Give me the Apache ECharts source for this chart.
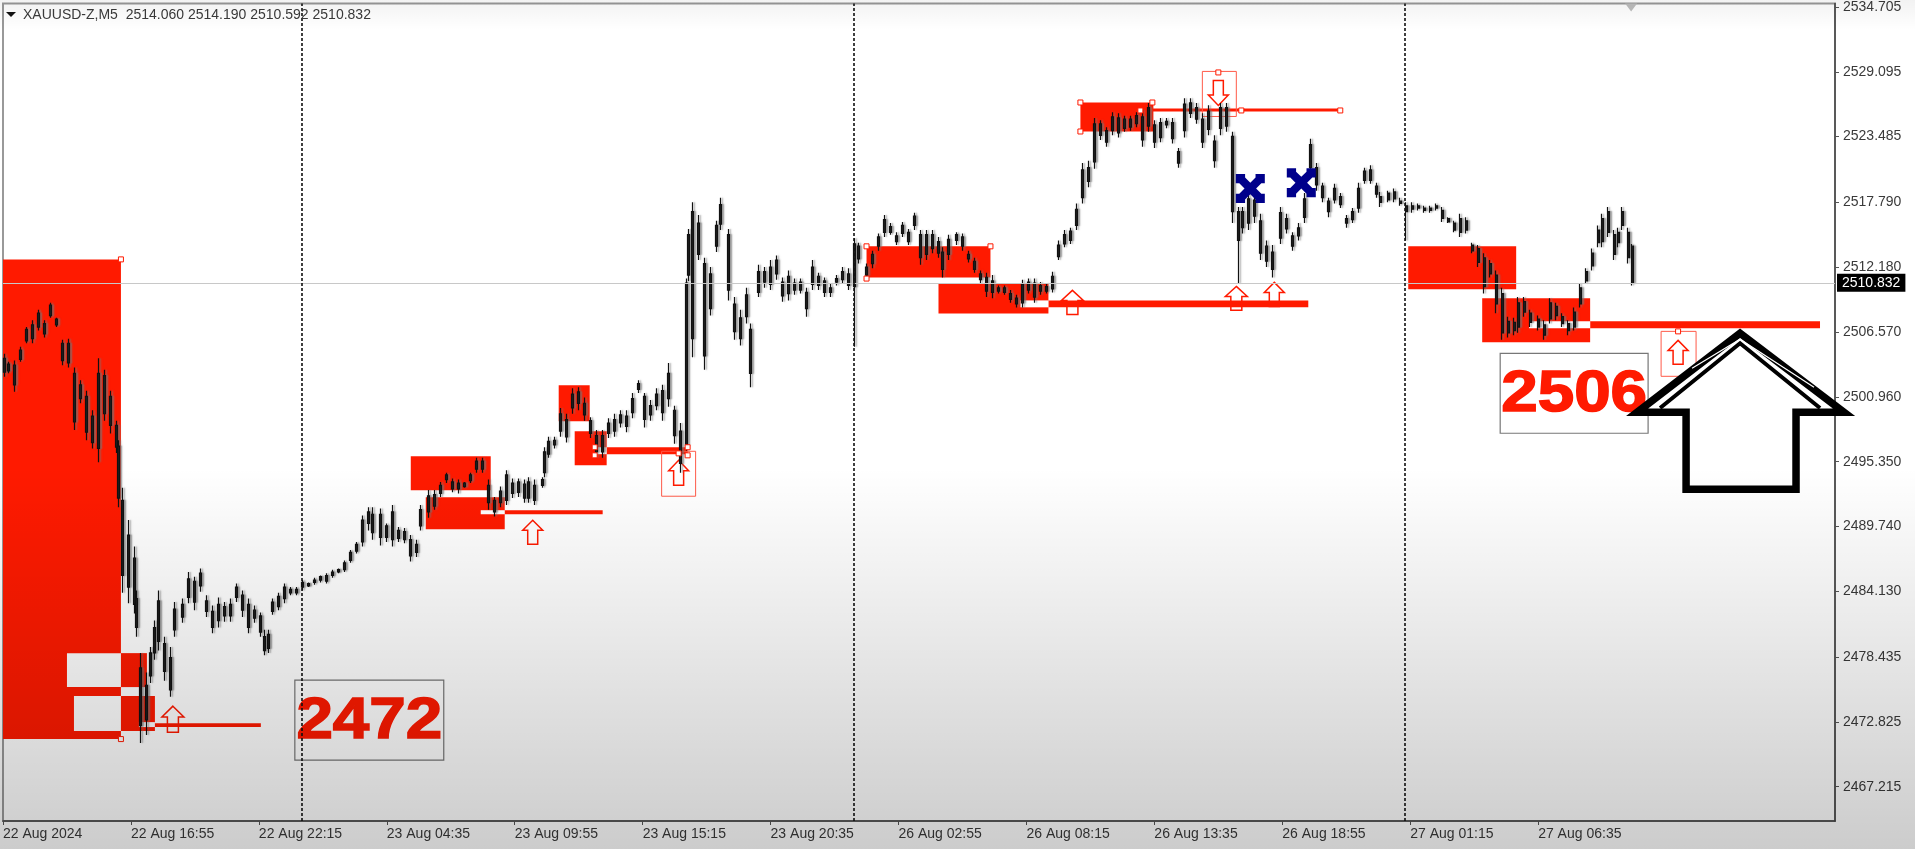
<!DOCTYPE html>
<html><head><meta charset="utf-8">
<style>html,body{margin:0;padding:0;background:#fff}#c{width:1915px;height:849px}</style>
<script src="https://cdn.jsdelivr.net/npm/echarts@6/dist/echarts.min.js"></script>
</head><body><div id="c"></div>
<script>
const headerText = 'XAUUSD-Z,M5  2514.060 2514.190 2510.592 2510.832';
const lastPrice = 2510.832;
const priceTicks = [2534.705,2529.095,2523.485,2517.79,2512.18,2506.57,2500.96,2495.35,2489.74,2484.13,2478.435,2472.825,2467.215];
const timeLabels = ['22 Aug 2024','22 Aug 16:55','22 Aug 22:15','23 Aug 04:35','23 Aug 09:55','23 Aug 15:15','23 Aug 20:35','26 Aug 02:55','26 Aug 08:15','26 Aug 13:35','26 Aug 18:55','27 Aug 01:15','27 Aug 06:35'];
const timeLabelBars = [0,64,128,192,256,320,384,448,512,576,640,704,768];
const separatorBars = [149.5,425.5,701.5];

// [bar, open, close, low, high]
const session22 = [
[1,2504.3,2503.1,2502.7,2504.7],[3,2503.2,2503.8,2503.0,2504.0],[6,2503.7,2502.0,2501.4,2504.1],[9,2504.2,2505.0,2504.0,2505.3],
[12,2505.8,2506.8,2505.6,2507.0],[15,2507.2,2506.0,2505.6,2507.6],[18,2507.0,2508.2,2506.7,2508.5],[21,2507.3,2506.4,2506.1,2507.6],
[24,2508.0,2508.9,2507.8,2509.1],[27,2507.7,2507.2,2507.0,2507.8],[30,2505.6,2504.1,2503.7,2505.9],[33,2503.9,2505.6,2503.5,2506.0],
[36,2503.0,2498.8,2498.1,2503.5],[39,2500.8,2502.0,2500.4,2502.4],[42,2501.0,2497.9,2497.2,2501.5],[45,2497.0,2499.3,2496.5,2499.8],
[48,2496.5,2503.0,2495.3,2504.3],[51,2502.8,2499.5,2498.9,2503.3],[54,2498.5,2501.0,2497.8,2501.5],[57,2498.5,2496.6,2496.1,2498.9],
[58,2496.7,2492.2,2491.4,2497.2],[60,2492,2485.5,2484.0,2493.1],[63,2484.5,2489,2483.1,2490.3],[66,2487,2483,2482.2,2488.0],
[67,2483.5,2481,2480.2,2484.2],[69,2477.5,2472.5,2471.0,2478.8],[72,2473,2476,2471.7,2477.1],[74,2476.8,2478.8,2476.2,2479.3],
[76,2478.8,2481,2478.2,2481.6],[78,2479.8,2483.3,2479.0,2484.2],[81,2479.6,2477.2,2476.4,2480.2],[84,2475.6,2478.4,2475.0,2479.3],
[86,2480.8,2482.6,2480.2,2483.2],[90,2481.9,2483,2481.4,2483.5],[93,2483.6,2485.2,2483.1,2485.8],[96,2485,2483.2,2482.5,2485.4],
[99,2484.6,2485.7,2484.1,2486.1],[102,2483.3,2482.4,2481.9,2483.8],[105,2482.4,2481,2480.5,2482.9],[108,2481.6,2483,2481.0,2483.6],
[111,2482.8,2482,2481.5,2483.2],[114,2482,2483,2481.5,2483.5],[117,2483.6,2484.5,2483.2,2484.8],[120,2483.8,2482.5,2481.9,2484.2],
[123,2483,2481,2480.5,2483.5],[126,2481.8,2482.5,2481.4,2482.9],[129,2482,2480.6,2480.2,2482.3],[131,2480.2,2479,2478.6,2480.8],
[133,2479.2,2480.4,2478.8,2480.8],[135,2482.4,2483.2,2482.1,2483.5],[138,2482.8,2483.7,2482.5,2484],[141,2483.5,2484.5,2483.1,2484.8],
[144,2484.3,2484,2483.8,2484.5],[147,2484,2484.3,2483.8,2484.5],[150,2484.5,2484.9,2484.2,2485.1],[153,2484.8,2484.6,2484.5,2484.9],
[156,2484.9,2485.1,2484.7,2485.3],[159,2485.1,2485.4,2484.9,2485.5],[162,2485.0,2485.5,2484.8,2485.7],[165,2485.8,2485.5,2485.3,2486]
];
const session23 = [
[168,2485.8,2486,2485.7,2486.1],[171,2486,2486.6,2485.8,2486.8],[174,2486.8,2487.5,2486.6,2487.7],[177,2487.6,2488.2,2487.4,2488.4],
[180,2488.4,2490.3,2488,2490.7],[183,2490,2491,2489.4,2491.4],[185,2490.8,2489.2,2488.6,2491.4],[189,2490.8,2488.8,2488.1,2491.3],
[192,2489.8,2488.8,2488.4,2490],[195,2488.6,2491,2488,2491.6],[198,2489.4,2488.7,2488.4,2489.7],[201,2488.6,2489.3,2488.3,2489.6],
[204,2488.6,2487.2,2486.7,2489],[207,2487.5,2488.2,2487.1,2488.6],[209,2489.8,2491.2,2489.4,2491.6],[213,2491,2492.4,2490.5,2492.9],
[216,2492.5,2491.5,2491.2,2492.9],[219,2492.6,2493.3,2492.3,2493.6],[222,2493.8,2494.2,2493.5,2494.4],[225,2493.6,2493,2492.7,2493.9],
[228,2493,2493.5,2492.6,2493.8],[231,2493.2,2493.5,2493.1,2493.6],[234,2493.7,2494.2,2493.5,2494.4],[237,2494.7,2495.4,2494.4,2495.7],
[240,2495.4,2494.7,2494.4,2495.7],[243,2493.3,2491.8,2491.2,2493.8],[246,2491,2492,2490.6,2492.3],[249,2491.8,2492.8,2491.4,2493.2],
[252,2492,2494.2,2491.6,2494.6],[255,2493.5,2492.6,2492.2,2493.9],[258,2492.7,2493.6,2492.3,2493.9],[261,2493.4,2492.2,2491.8,2493.8],
[263,2492.2,2493.6,2491.8,2494],[266,2493.3,2492,2491.6,2493.8],[270,2493.3,2493.8,2493.1,2494],[271,2494.4,2496.2,2494,2496.6],
[273,2496,2497.1,2495.7,2497.5],[276,2497.2,2496.8,2496.5,2497.5],[279,2498,2499.5,2497.5,2500],[282,2499,2497.5,2497,2499.5],
[285,2500,2501.2,2499.5,2501.7],[288,2500.4,2501.4,2499.8,2501.8],[291,2500.4,2499.4,2498.9,2500.9],[294,2498.9,2497.8,2497.4,2499.2],
[297,2497.6,2496.2,2495.7,2498.1],[300,2496.2,2497.6,2495.7,2498.1],[303,2497.8,2498.7,2497.4,2499.1],[306,2499,2498,2497.5,2499.5],
[309,2498.7,2499.4,2498.3,2499.8],[312,2499.3,2498.4,2497.9,2499.8],[315,2499.6,2500.8,2499.1,2501.3],[318,2501.6,2502.1,2501.3,2502.4],
[321,2501,2499,2498.3,2501.3],[324,2499.4,2500.2,2498.9,2500.7],[327,2500.2,2501.2,2499.8,2501.7],[330,2501.5,2499.6,2498.9,2502],
[333,2500.8,2503,2500.1,2503.9],[336,2499.8,2497.6,2496.9,2500.2],[339,2498,2495.2,2494.4,2498.7],[342,2496.8,2510.8,2496.3,2511.2],
[343,2511.5,2515,2511,2515.5],[345,2517,2506,2504.4,2517.8],[348,2513.3,2516,2512.8,2516.7],[351,2512.5,2504.5,2503.3,2513],
[354,2508.6,2511.6,2508,2512.2],[357,2514,2515.8,2513.5,2516.2],[359,2515.9,2517.6,2515.4,2518.2],[363,2515,2510.2,2509.3,2515.5],
[366,2509,2506.6,2505.9,2509.6],[369,2506,2507.8,2505.4,2508.5],[372,2507.9,2509.8,2507.3,2510.4],[374,2506.8,2503,2501.8,2507.3],
[378,2510,2511.8,2509.6,2512.4],[381,2511.8,2510.9,2510.4,2512.2],[384,2510.7,2512.2,2510.2,2512.8],[387,2511.6,2512.8,2511.1,2513.2],
[390,2510.9,2509.7,2509.2,2511.3],[393,2509.9,2511.4,2509.3,2511.9],[396,2510.8,2510.2,2509.8,2511.2],[399,2510.2,2510.9,2509.9,2511.2],
[402,2510,2508.6,2507.9,2510.4],[405,2510.7,2512.2,2510.2,2512.8],[408,2511.4,2510.6,2510.2,2511.7],[411,2511,2510,2509.6,2511.3],
[414,2510.4,2510,2509.6,2510.8],[417,2510.9,2511.2,2510.6,2511.5],[420,2511.1,2511.8,2510.8,2512.2],[423,2511.6,2510.6,2510.2,2512.1]
];
const session26 = [
[426,2510.5,2514.2,2505.3,2514.7],[428,2514,2512.9,2512.5,2514.3],[432,2512.2,2511.5,2511.1,2512.5],[435,2512.5,2513.3,2512.1,2513.6],
[438,2514,2514.8,2513.6,2515.1],[441,2515.2,2516.3,2514.8,2516.7],[444,2515.7,2515.2,2515,2516],[447,2514.9,2514.4,2514.1,2515.2],
[450,2515.1,2515.8,2514.8,2516.1],[453,2515.2,2514.4,2514.1,2515.5],[456,2515.8,2516.6,2515.4,2516.9],[459,2515,2513,2512.4,2515.4],
[462,2513.3,2515,2512.8,2515.4],[465,2515,2513.8,2513.4,2515.4],[468,2513.4,2514.4,2513,2514.8],[470,2513.5,2512,2511.3,2513.9],
[473,2513.3,2514.6,2512.8,2515],[477,2514.5,2515,2514.1,2515.2],[480,2514.8,2514,2513.6,2515.1],[483,2513.3,2512.9,2512.6,2513.6],
[486,2512.7,2512,2511.7,2513],[489,2511.6,2511.1,2510.8,2511.9],[492,2511.3,2510.1,2509.6,2511.7],[495,2510,2511,2509.5,2511.5],
[498,2510.4,2510.1,2509.9,2510.6],[501,2510,2510.4,2509.8,2510.6],[504,2509.9,2509.4,2509.1,2510.2],[507,2509.5,2509,2508.7,2509.8],
[510,2509.1,2510.7,2508.7,2511.1],[513,2510.2,2510.9,2509.9,2511.2],[516,2510.8,2509.6,2509.1,2511.2],[519,2510.1,2510.6,2509.8,2510.9],
[522,2510.5,2510.1,2509.9,2510.8],[525,2510.3,2511.4,2510,2511.8],[528,2513.1,2514.1,2512.8,2514.5],[531,2514.2,2515,2513.9,2515.4],
[534,2514.5,2515.3,2514.2,2515.6],[537,2515.8,2517.2,2515.4,2517.7],[540,2518.2,2520.6,2517.7,2521.2],[543,2520.8,2519.6,2519.1,2521.4],
[546,2521.3,2524.6,2520.7,2525.1],[549,2523.6,2524.6,2523.2,2524.9],[552,2524,2523,2522.6,2524.3],[555,2524,2525.2,2523.6,2525.6],
[558,2525.1,2523.8,2523.4,2525.5],[561,2524.2,2525,2523.9,2525.3],[564,2525,2524.3,2524,2525.3],[567,2524.6,2525.3,2524.3,2525.6],
[570,2525.2,2523.2,2522.6,2525.8],[573,2524.4,2526,2523.9,2526.4],[576,2524.5,2523,2522.5,2524.9],[579,2523.4,2524.7,2523,2525.1],
[582,2524.8,2524.5,2524.2,2525.1],[585,2524.7,2523.3,2522.9,2525.1],[588,2522.2,2521.2,2520.8,2522.5],[591,2524,2526.3,2523.4,2526.8],
[594,2525.5,2526.4,2525.1,2526.8],[597,2526,2525,2524.6,2526.4],[600,2525,2523,2522.5,2525.5],[603,2524.1,2525.7,2523.6,2526.2],
[606,2523.1,2521.4,2520.8,2523.6],[609,2524.2,2526,2523.6,2526.4],[612,2526,2524.4,2523.9,2526.4],[615,2523.5,2517,2516,2523.9],
[618,2514.5,2517,2510.8,2517.4],[620,2515.6,2517,2515.1,2517.4],[623,2516,2518.1,2515.4,2518.6],[626,2518,2516.6,2516,2518.6],
[629,2516.2,2513.4,2512.8,2516.8],[632,2514,2512.7,2512.2,2514.5],[635,2512,2513.5,2511.3,2514.1],[639,2514.7,2516.9,2514.2,2517.4],
[642,2516.4,2515.5,2515.1,2516.8],[645,2514.9,2514,2513.6,2515.2],[648,2514.9,2515.6,2514.5,2516],[651,2516.5,2518.1,2516,2518.6],
[654,2520.8,2522.8,2520.3,2523.3],[657,2520.8,2519.3,2518.8,2521.2],[660,2519.2,2518.2,2517.8,2519.5],[663,2517.9,2517,2516.5,2518.2],
[666,2518,2519,2517.7,2519.4],[669,2518.3,2517.6,2517.3,2518.6],[672,2516.4,2516,2515.6,2516.7],[675,2516.3,2517,2516,2517.3],
[678,2517.3,2519,2516.9,2519.5],[681,2519.7,2520.5,2519.4,2520.8],[684,2520.6,2519.7,2519.4,2521],[687,2519.2,2518.5,2518.2,2519.5],
[689,2518.3,2517.8,2517.4,2518.7],[693,2518,2518.6,2517.8,2518.8],[696,2518.7,2518.1,2517.8,2519],[699,2517.9,2517.7,2517.5,2518.2]
];
const session27 = [
[702,2517.5,2517,2514.5,2517.8],[705,2517.5,2517.2,2516.9,2517.8],[708,2517.3,2517.5,2517.1,2517.7],[711,2517.3,2517.1,2516.9,2517.5],
[714,2517.1,2517.3,2516.9,2517.5],[717,2517.3,2517.5,2517.1,2517.7],[720,2517.1,2516.4,2516.1,2517.4],[723,2516.4,2516.1,2516,2516.5],
[726,2516,2515.4,2515.2,2516.2],[729,2515.2,2516.4,2514.8,2516.8],[732,2516.2,2515.4,2515.1,2516.5],[735,2514.1,2513.6,2513.4,2514.3],
[738,2513.8,2512.6,2512.2,2514.1],[741,2513,2510.5,2509.9,2513.4],[744,2511.6,2512.5,2511.3,2512.8],[747,2511.5,2509,2508.2,2511.9],
[750,2509.9,2506.5,2505.9,2510.4],[753,2507.5,2506.5,2506.1,2507.9],[756,2506.7,2507.4,2506.3,2507.8],[758,2507,2509.1,2506.5,2509.6],
[761,2509.2,2508.3,2507.9,2509.6],[764,2508.2,2507.4,2507,2508.5],[768,2507.7,2507,2506.7,2508],[771,2507.2,2506.3,2505.9,2507.6],
[774,2507.7,2509.1,2507.3,2509.5],[777,2508.8,2508,2507.6,2509.1],[780,2507.9,2507.3,2507,2508.2],[783,2507.3,2506.7,2506.3,2507.6],
[786,2507,2508.3,2506.7,2508.7],[789,2509,2510.4,2508.7,2510.8],[792,2511,2511.8,2510.8,2512.1],[795,2512.3,2513.4,2511.9,2513.8],
[798,2514.3,2515.4,2513.9,2515.8],[800,2514.4,2516.4,2513.9,2516.8],[803,2517,2515.2,2514.8,2517.4],[806,2515,2513.3,2512.8,2515.4],
[808,2514.3,2515.2,2513.9,2515.6],[810,2515.8,2517,2515.4,2517.4],[813,2515.2,2513,2512.5,2515.6],[815,2514,2510.832,2510.6,2514.2]
];

// [barFrom, barTo, priceTop, priceBottom]
const redZones = [
[0,59,2512.86,2471.34],[59,72,2478.78,2475.84],[59,76,2475.06,2472.03],
[204,244,2495.81,2492.87],[211.5,251,2492.27,2489.5],[278,293.5,2501.96,2498.85],[286,302,2497.98,2495.04],
[432,494,2513.99,2511.3],[468,523,2510.78,2508.18],[539,575.5,2526.44,2523.93],
[703,757,2513.99,2510.27],[740,794,2509.49,2505.68]
];
const levelLines = [
[76,129,2472.72,2472.38],[251,300,2491.15,2490.8],[302,342.5,2496.6,2496.0],
[523,653,2509.31,2508.71],[570,669,2525.92,2525.66],[794,909,2507.5,2506.89]
];
const whiteZones = [
[32,59,2478.78,2475.84],[35.5,59,2475.06,2472.03],[68,76,2472.81,2472.38],
[239,251,2491.15,2490.8],[296.5,302,2496.6,2496.0],[509,523,2509.31,2508.71],[763.5,794,2507.5,2506.89]
];
const redFrames = [[329.5,346.5,2496.25,2492.36],[600,617,2529.13,2525.23],[829.5,847,2506.63,2502.74]];
const grayFrames = [[146,220.5,2476.44,2469.52],[749,823,2504.73,2497.81]];
// [bar, tipPrice, basePrice, halfWidthInBars]
const signalArrows = [
[85,2474.19,2471.94,5.5],[265,2490.28,2488.21,5],[338,2495.47,2493.31,5],[535,2510.18,2508.1,5.5],
[617,2510.52,2508.45,5.5],[636,2510.87,2508.79,5],[838,2505.85,2503.78,5],[608,2526.18,2528.35,5]
];
const handlePoints = [
[59,2512.86],[59,2471.34],[432,2513.99],[494,2513.99],[432,2511.2],[539,2526.44],[575,2526.44],[539,2523.93],
[569,2525.75],[619.5,2525.75],[669,2525.75],[608,2529.04],[838,2506.63],[342.5,2496.6],[342.5,2495.9],[296,2496.6],[296,2495.9],[338,2496.07]
];
const crossMarks = [[624,2519.0],[649.5,2519.5]];
const bigTexts = [['2472',183.25,2472.8],['2506',786,2501.1]];
const bigArrowOutline = [[869,2506.46],[921,2499.63],[897,2499.63],[897,2492.97],[842,2492.97],[842,2499.63],[817.5,2499.63]];
const bigArrowInner = [[829,2500.0],[869,2505.6],[909,2500.0]];
const bigArrowHairline = [[845,2503.43],[869,2505.95],[906,2501.79]];
const shiftMarker = [[814.5,2534.66]];

const candles = [...session22, ...session23, ...session26, ...session27];
const RED = '#ff1a00';

function rectSeries(data, style) {
  return {
    type: 'custom', data, silent: true, clip: false,
    encode: { x: [0, 1], y: [2, 3] },
    renderItem(p, api) {
      const a = api.coord([api.value(0), api.value(2)]);
      const b = api.coord([api.value(1), api.value(3)]);
      return { type: 'rect', shape: { x: a[0], y: a[1], width: b[0] - a[0], height: b[1] - a[1] }, style };
    }
  };
}
function lineSeries(points, closed, style) {
  return {
    type: 'custom', data: [0], silent: true, clip: false,
    encode: { x: [], y: [] },
    renderItem(p, api) {
      return { type: closed ? 'polygon' : 'polyline', shape: { points: points.map(q => api.coord(q)) }, style };
    }
  };
}

const chart = echarts.init(document.getElementById('c'), null, { renderer: 'canvas' });
chart.setOption({
  animation: false,
  backgroundColor: '#ffffff',
  title: { text: headerText, left: 23, top: 8, padding: 0, textStyle: { fontFamily: '"Liberation Sans"', fontSize: 14, fontWeight: 'normal', color: '#3a3a3a' } },
  grid: { left: 2, right: 80, top: 3, bottom: 28, show: true, borderColor: '#999', borderWidth: 2, backgroundColor: 'transparent' },
  tooltip: { show: false },
  xAxis: {
    type: 'value', min: 0, max: 916.5, splitLine: { show: false },
    axisLine: { show: true, onZero: false, lineStyle: { color: '#444', width: 1.5 } },
    axisTick: { show: true, length: 4, customValues: timeLabelBars, lineStyle: { color: '#555' } },
    axisLabel: {
      customValues: timeLabelBars, margin: 6, align: 'left', color: '#3a3a3a', fontFamily: '"Liberation Sans"', fontSize: 14,
      formatter: v => timeLabels[timeLabelBars.indexOf(v)] || ''
    }
  },
  yAxis: {
    type: 'value', position: 'right', min: 2464.25, max: 2535.0, splitLine: { show: false },
    axisLine: { show: true, onZero: false, lineStyle: { color: '#444', width: 1.5 } },
    axisTick: { show: true, length: 4, customValues: priceTicks, lineStyle: { color: '#555' } },
    axisLabel: {
      customValues: priceTicks, margin: 8, color: '#3a3a3a', fontFamily: '"Liberation Sans"', fontSize: 14,
      formatter: v => v.toFixed(3)
    }
  },
  series: [
    rectSeries(redZones, { fill: RED }),
    {
      type: 'custom', data: signalArrows, silent: true, clip: false, encode: { x: 0, y: [1, 2] },
      renderItem(p, api) {
        const b = api.value(0), tip = api.value(1), base = api.value(2), w = api.value(3);
        const neck = tip + (base - tip) * 0.42;
        const pts = [[b, tip], [b + w, neck], [b + w / 2, neck], [b + w / 2, base], [b - w / 2, base], [b - w / 2, neck], [b - w, neck]];
        return { type: 'polygon', shape: { points: pts.map(q => api.coord(q)) }, style: { fill: '#fff', stroke: RED, lineWidth: 1.5 } };
      }
    },
    rectSeries(levelLines, { fill: RED }),
    rectSeries(whiteZones, { fill: '#fff' }),
    {
      type: 'candlestick', data: candles, barWidth: 2.5, silent: true, clip: false,
      encode: { x: 0, y: [1, 2, 3, 4] },
      itemStyle: { color: '#111', color0: '#111', borderColor: '#111', borderColor0: '#111', borderWidth: 1.2, shadowBlur: 1.5, shadowOffsetX: 2, shadowColor: 'rgba(120,120,120,0.6)' },
      markLine: {
        silent: true, symbol: 'none', animation: false, precision: 3,
        data: [
          { yAxis: lastPrice, lineStyle: { color: '#c8c8c8', width: 1, type: 'solid' },
            label: { show: true, position: 'end', distance: 2, formatter: lastPrice.toFixed(3), color: '#fff', backgroundColor: '#000', padding: [2, 5, 2, 5], fontFamily: '"Liberation Sans"', fontSize: 14 } },
          ...separatorBars.map(b => ({ xAxis: b, lineStyle: { color: '#111', width: 1.6, type: [3, 2] }, label: { show: false } }))
        ]
      }
    },
    rectSeries(redFrames, { fill: 'rgba(0,0,0,0)', stroke: '#ff5a48', lineWidth: 1 }),
    rectSeries(grayFrames, { fill: 'rgba(255,255,255,0)', stroke: '#777', lineWidth: 1.2 }),
    {
      type: 'scatter', data: handlePoints, symbol: 'rect', symbolSize: 5, silent: true,
      itemStyle: { color: '#fff', borderColor: RED, borderWidth: 1, opacity: 1 }
    },
    {
      type: 'custom', data: bigTexts.map(t => [t[1], t[2]]), silent: true, clip: false, encode: { x: 0, y: 1 },
      renderItem(p, api) {
        const c = api.coord([api.value(0), api.value(1)]);
        return { type: 'text', x: c[0], y: c[1], scaleX: 1.15, style: { text: bigTexts[p.dataIndex][0], x: 0, y: 0, align: 'center', verticalAlign: 'middle', font: 'bold 57px "Liberation Sans"', fill: RED, stroke: RED, lineWidth: 1.5 } };
      }
    },
    {
      type: 'scatter', data: crossMarks, silent: true, symbolSize: 29,
      symbol: 'path://M0 0H32V12L50 30L68 12V0H100V32H88L70 50L88 68H100V100H68V88L50 70L32 88V100H0V68H12L30 50L12 32H0Z',
      itemStyle: { color: '#00008b', opacity: 1 }
    },
    { type: 'scatter', data: shiftMarker, silent: true, symbol: 'triangle', symbolRotate: 180, symbolSize: [12, 8], itemStyle: { color: '#bdbdbd', opacity: 1 }, clip: false },
    lineSeries(bigArrowOutline, true, { fill: '#fff', stroke: '#000', lineWidth: 7.5, lineJoin: 'miter', miterLimit: 10 }),
    lineSeries(bigArrowInner, false, { fill: 'none', stroke: '#000', lineWidth: 4, lineJoin: 'miter' }),
    lineSeries(bigArrowHairline, false, { fill: 'none', stroke: '#fff', lineWidth: 1.2, lineJoin: 'miter' })
  ],
  graphic: [
    { type: 'polygon', z: 90, silent: true, shape: { points: [[6, 12], [16, 12], [11, 17]] }, style: { fill: '#111' } },
    { type: 'rect', z: 100, silent: true, shape: { x: 0, y: 0, width: 1915, height: 849 },
      style: { fill: { type: 'linear', x: 0, y: 0, x2: 0, y2: 1, colorStops: [
        { offset: 0, color: 'rgba(0,0,0,0.05)' }, { offset: 0.035, color: 'rgba(0,0,0,0)' },
        { offset: 0.55, color: 'rgba(0,0,0,0)' }, { offset: 1, color: 'rgba(0,0,0,0.2)' } ] } } }
  ]
});
</script></body></html>
